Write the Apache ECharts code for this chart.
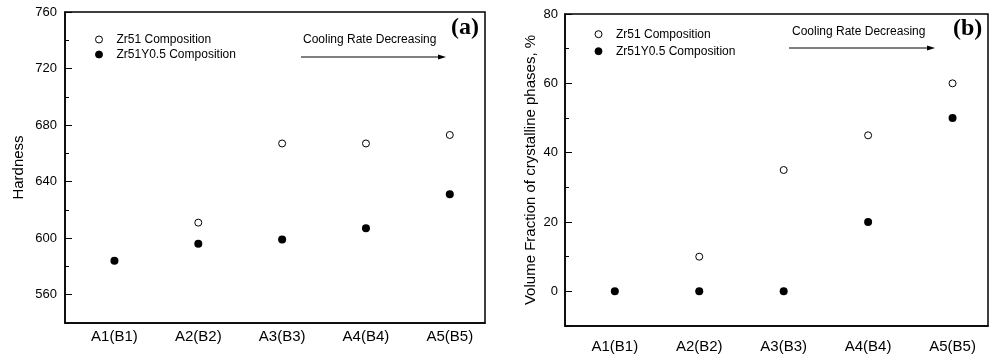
<!DOCTYPE html>
<html><head><meta charset="utf-8">
<script src="https://cdn.jsdelivr.net/npm/echarts@6/dist/echarts.min.js"></script>
<style>html,body{margin:0;padding:0;background:#fff}#c{width:995px;height:356px}</style>
</head><body><div id="c"></div>
<script>
const categories = ['A1(B1)', 'A2(B2)', 'A3(B3)', 'A4(B4)', 'A5(B5)'];
const hardnessZr51 = [null, 611, 667, 667, 673];
const hardnessZr51Y = [584, 596, 599, 607, 631];
const fractionZr51 = [null, 10, 35, 45, 60];
const fractionZr51Y = [0, 0, 0, 20, 50];
const seriesNames = ['Zr51 Composition', 'Zr51Y0.5 Composition'];
const hardnessTicks = [560, 600, 640, 680, 720, 760];
const fractionTicks = [0, 20, 40, 60, 80];

const toPts = arr => arr.map((v, i) => v === null ? null : [i + 1, v]).filter(p => p);

const font = 'Liberation Sans, Arial, sans-serif';
const chart = echarts.init(document.getElementById('c'));

function xAxis(gi, margin) {
  return {
    type: 'value', gridIndex: gi, min: 0.41, max: 5.42, minInterval: 1, maxInterval: 1,
    axisLine: { show: true, onZero: false, lineStyle: { color: '#000', width: 1.5 } },
    axisTick: { show: false }, splitLine: { show: false },
    axisLabel: {
      color: '#000', fontFamily: font, fontSize: 15, margin: margin,
      showMinLabel: true, showMaxLabel: true,
      formatter: v => (Math.abs(v - Math.round(v)) < 1e-6 && categories[Math.round(v) - 1]) ? categories[Math.round(v) - 1] : ''
    }
  };
}

function yAxisMain(gi, min, max, name, nameGap, majors, margin) {
  return {
    type: 'value', gridIndex: gi, min: min, max: max, interval: (majors[1] - majors[0]) / 2, position: 'left',
    name: name, nameLocation: 'middle', nameGap: nameGap,
    nameTextStyle: { color: '#000', fontFamily: font, fontSize: 15 },
    axisLine: { show: true, onZero: false, lineStyle: { color: '#000', width: 1.5 } },
    axisTick: { show: true, inside: true, length: 4, lineStyle: { color: '#000', width: 1 } },
    splitLine: { show: false },
    axisLabel: { color: '#000', fontFamily: font, fontSize: 13, margin: margin,
      formatter: v => majors.includes(v) ? String(v) : '' }
  };
}
function yAxisMajorTicks(gi, min, max, majors) {
  return {
    type: 'value', gridIndex: gi, min: min, max: max, interval: (majors[1] - majors[0]) / 2, position: 'left', offset: 0,
    axisLine: { show: false },
    axisTick: { show: true, inside: true, length: 7, customValues: majors, lineStyle: { color: '#000', width: 1 } },
    splitLine: { show: false },
    axisLabel: { show: false }
  };
}

const openStyle = { color: '#fff', borderColor: '#000', borderWidth: 1, opacity: 1 };
const fillStyle = { color: '#000', borderColor: '#000', borderWidth: 0, opacity: 1 };

function arrow(x1, x2, y) {
  return [
    { type: 'line', shape: { x1: x1, y1: y, x2: x2 - 6, y2: y }, style: { stroke: '#000', lineWidth: 1 } },
    { type: 'polygon', shape: { points: [[x2, y], [x2 - 8, y - 2.5], [x2 - 8, y + 2.5]] }, style: { fill: '#000' } }
  ];
}

const legendText = { color: '#000', fontFamily: font, fontSize: 12, padding: [0, 0, 0, 9] };

chart.setOption({
  animation: false,
  grid: [
    { left: 65, top: 12, width: 420, height: 311, show: true, borderColor: '#000', borderWidth: 1.5, backgroundColor: 'transparent' },
    { left: 565, top: 14, width: 423, height: 312, show: true, borderColor: '#000', borderWidth: 1.5, backgroundColor: 'transparent' }
  ],
  xAxis: [xAxis(0, 6), xAxis(1, 13)],
  yAxis: [
    yAxisMain(0, 540, 760, 'Hardness', 39, hardnessTicks, 8),
    yAxisMain(1, -10, 80, 'Volume Fraction of crystalline phases, %', 27, fractionTicks, 7),
    yAxisMajorTicks(0, 540, 760, hardnessTicks),
    yAxisMajorTicks(1, -10, 80, fractionTicks)
  ],
  legend: [
    {
      orient: 'vertical', left: 90, top: 28.5, itemWidth: 7, itemHeight: 7, itemGap: 3,
      itemStyle: { borderWidth: 1 },
      data: [{ name: seriesNames[0], icon: 'circle' }, { name: seriesNames[1], icon: 'circle' }],
      textStyle: legendText, selectedMode: false
    },
    {
      orient: 'vertical', left: 589.5, top: 23.2, itemWidth: 7, itemHeight: 7, itemGap: 5,
      itemStyle: { borderWidth: 1 },
      data: [{ name: seriesNames[0] + ' ', icon: 'circle' }, { name: seriesNames[1] + ' ', icon: 'circle' }],
      textStyle: legendText, selectedMode: false
    }
  ],
  series: [
    { type: 'scatter', name: seriesNames[0], xAxisIndex: 0, yAxisIndex: 0, symbol: 'circle', symbolSize: 7, itemStyle: openStyle, data: toPts(hardnessZr51) },
    { type: 'scatter', name: seriesNames[1], xAxisIndex: 0, yAxisIndex: 0, symbol: 'circle', symbolSize: 8, itemStyle: fillStyle, data: toPts(hardnessZr51Y) },
    { type: 'scatter', name: seriesNames[0] + ' ', xAxisIndex: 1, yAxisIndex: 1, symbol: 'circle', symbolSize: 7, itemStyle: openStyle, data: toPts(fractionZr51) },
    { type: 'scatter', name: seriesNames[1] + ' ', xAxisIndex: 1, yAxisIndex: 1, symbol: 'circle', symbolSize: 8, itemStyle: fillStyle, data: toPts(fractionZr51Y) }
  ],
  graphic: [
    { type: 'text', left: 303, top: 34, style: { text: 'Cooling Rate Decreasing', fill: '#000', font: '12px ' + font } },
    ...arrow(301, 446, 57),
    { type: 'text', left: 451, top: 16, style: { text: '(a)', fill: '#000', font: 'bold 24px "Liberation Serif", "Times New Roman", serif' } },
    { type: 'text', left: 792, top: 25.5, style: { text: 'Cooling Rate Decreasing', fill: '#000', font: '12px ' + font } },
    ...arrow(789, 935, 48),
    { type: 'text', left: 953, top: 17, style: { text: '(b)', fill: '#000', font: 'bold 24px "Liberation Serif", "Times New Roman", serif' } }
  ]
});
</script></body></html>
